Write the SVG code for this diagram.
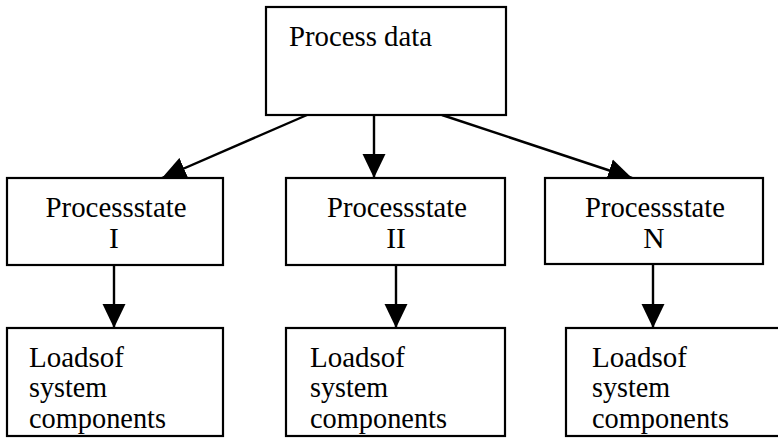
<svg xmlns="http://www.w3.org/2000/svg" width="778" height="439" viewBox="0 0 778 439">
  <defs>
    <style>
      .box { fill: #fff; stroke: #000; stroke-width: 2.2; }
      .lbl { font-family: "Liberation Serif", "Times New Roman", serif; font-size: 29.5px; fill: #000; }
      .mid { text-anchor: middle; }
      .edge { stroke: #000; stroke-width: 2.4; fill: none; marker-end: url(#head); }
    </style>
    <marker id="head" markerUnits="userSpaceOnUse" markerWidth="24" markerHeight="24" viewBox="0 0 23 22" refX="23" refY="11" orient="auto">
      <path d="M0,0 L23,11 L0,22 Z" fill="#000"/>
    </marker>
  </defs>
  <rect width="778" height="439" fill="#fff"/>

  <!-- connectors -->
  <g id="connectors">
    <line class="edge" x1="307" y1="115" x2="162" y2="178"/>
    <line class="edge" x1="374" y1="115" x2="374" y2="178"/>
    <line class="edge" x1="442" y1="115" x2="632" y2="178"/>
    <line class="edge" x1="114" y1="265" x2="114" y2="328"/>
    <line class="edge" x1="396" y1="265" x2="396" y2="328"/>
    <line class="edge" x1="653" y1="264" x2="653" y2="328"/>
  </g>

  <!-- top node -->
  <g id="process-data">
    <rect class="box" x="266" y="7" width="240" height="108"/>
    <text class="lbl" x="289" y="46" textLength="143" lengthAdjust="spacingAndGlyphs">Process data</text>
  </g>

  <!-- process states -->
  <g id="state-1">
    <rect class="box" x="7" y="178" width="216" height="87"/>
    <text class="lbl mid" x="116" y="217" textLength="141" lengthAdjust="spacingAndGlyphs">Processstate</text>
    <text class="lbl mid" x="114" y="248">I</text>
  </g>
  <g id="state-2">
    <rect class="box" x="286" y="178" width="219" height="87"/>
    <text class="lbl mid" x="397" y="217" textLength="140" lengthAdjust="spacingAndGlyphs">Processstate</text>
    <text class="lbl mid" x="396" y="248">II</text>
  </g>
  <g id="state-n">
    <rect class="box" x="545" y="178" width="218" height="86"/>
    <text class="lbl mid" x="655" y="217" textLength="140" lengthAdjust="spacingAndGlyphs">Processstate</text>
    <text class="lbl mid" x="654" y="248">N</text>
  </g>

  <!-- component loads -->
  <g id="loads-1">
    <rect class="box" x="7" y="328" width="216" height="108"/>
    <text class="lbl" x="29" y="367" textLength="95" lengthAdjust="spacingAndGlyphs">Loadsof</text>
    <text class="lbl" x="29" y="397" textLength="78" lengthAdjust="spacingAndGlyphs">system</text>
    <text class="lbl" x="29" y="428" textLength="137" lengthAdjust="spacingAndGlyphs">components</text>
  </g>
  <g id="loads-2">
    <rect class="box" x="286" y="328" width="219" height="108"/>
    <text class="lbl" x="310" y="367" textLength="95" lengthAdjust="spacingAndGlyphs">Loadsof</text>
    <text class="lbl" x="310" y="397" textLength="78" lengthAdjust="spacingAndGlyphs">system</text>
    <text class="lbl" x="310" y="428" textLength="137" lengthAdjust="spacingAndGlyphs">components</text>
  </g>
  <g id="loads-n">
    <rect class="box" x="566" y="328" width="220" height="108"/>
    <text class="lbl" x="592" y="367" textLength="95" lengthAdjust="spacingAndGlyphs">Loadsof</text>
    <text class="lbl" x="592" y="397" textLength="78" lengthAdjust="spacingAndGlyphs">system</text>
    <text class="lbl" x="592" y="428" textLength="137" lengthAdjust="spacingAndGlyphs">components</text>
  </g>
</svg>
